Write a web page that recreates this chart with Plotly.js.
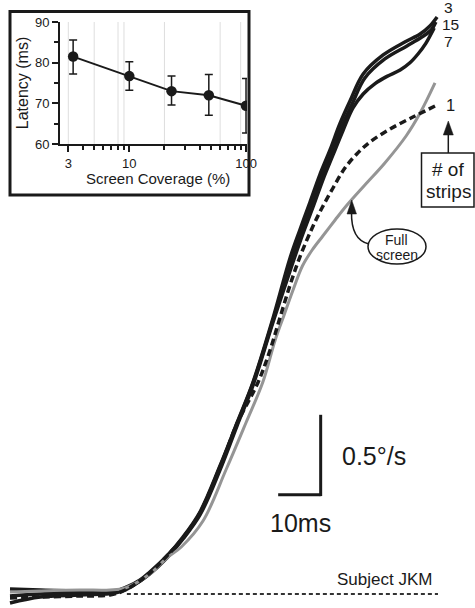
<!DOCTYPE html>
<html>
<head>
<meta charset="utf-8">
<script src="https://cdn.plot.ly/plotly-3.0.1.min.js"></script>
<style>html,body{margin:0;padding:0;background:#fff}#chart{width:475px;height:608px}</style>
</head>
<body>
<div id="chart"></div>
<script>
// ---- Main panel: eye velocity traces (time in ms, velocity in deg/s) ----
const t3  = [0, 7.1, 16.5, 24.7, 27.5, 30.6, 32.9, 36.9, 40.7, 44.7, 49.4, 53.4, 57.2, 61.9, 65.9, 68.2, 70.6, 72.9, 75.3, 77.6, 80.0, 83.1, 87.8, 92.9, 96.5, 98.8, 100.5];
const v3  = [0.031, 0.025, 0.019, 0.019, 0.044, 0.0875, 0.1375, 0.2375, 0.356, 0.5125, 0.80, 1.069, 1.325, 1.725, 2.10, 2.275, 2.45, 2.62, 2.775, 2.9375, 3.081, 3.25, 3.369, 3.45, 3.5, 3.55, 3.606];
const t15 = [0, 7.1, 16.5, 24.7, 27.5, 30.6, 32.9, 36.9, 40.7, 44.7, 49.4, 53.4, 57.2, 61.9, 66.1, 68.5, 70.8, 73.2, 75.5, 77.9, 80.5, 83.5, 88.2, 93.4, 96.9, 99.1, 100.2];
const v15 = [-0.0125, 0, 0.006, 0.0125, 0.0375, 0.081, 0.131, 0.231, 0.35, 0.506, 0.794, 1.0625, 1.319, 1.7125, 2.081, 2.256, 2.431, 2.6, 2.756, 2.9125, 3.063, 3.225, 3.344, 3.425, 3.481, 3.525, 3.575];
const t7  = [0, 7.1, 16.5, 24.7, 27.5, 30.6, 32.9, 36.9, 40.7, 44.7, 49.4, 53.4, 57.2, 61.9, 66.6, 68.9, 71.3, 73.6, 76.0, 78.4, 80.7, 83.1, 85.9, 88.7, 91.8, 94.1, 96.0, 97.8, 99.8];
const v7  = [-0.056, -0.019, -0.006, 0.006, 0.031, 0.081, 0.125, 0.225, 0.344, 0.494, 0.775, 1.05, 1.306, 1.7, 2.075, 2.25, 2.419, 2.5875, 2.744, 2.9, 3.0375, 3.125, 3.19, 3.235, 3.275, 3.32, 3.375, 3.44, 3.5375];
const t1  = [0, 7.1, 16.5, 23.5, 27.1, 32.9, 36.9, 40.7, 44.7, 49.4, 53.4, 58.4, 61.2, 63.5, 65.9, 68.2, 71.1, 73.4, 76.0, 78.8, 81.6, 84.7, 89.4, 94.8, 100.0];
const v1  = [-0.025, -0.019, -0.0125, -0.006, 0.025, 0.131, 0.2375, 0.35, 0.506, 0.7875, 1.0625, 1.325, 1.525, 1.725, 1.931, 2.106, 2.2875, 2.4125, 2.5375, 2.6625, 2.75, 2.825, 2.906, 2.981, 3.05];
const tFull = [0, 7.1, 16.5, 23.5, 27.1, 32.9, 36.9, 40.3, 45.4, 50.8, 55.5, 59.5, 62.4, 64.5, 66.6, 68.8, 71.1, 73.6, 76.5, 79.3, 83.5, 88.2, 93.2, 96.5, 100.0];
const vFull = [0.0125, 0.019, 0.025, 0.025, 0.0375, 0.125, 0.225, 0.294, 0.456, 0.775, 1.069, 1.325, 1.5875, 1.744, 1.9, 2.05, 2.15, 2.2375, 2.3375, 2.431, 2.556, 2.694, 2.8625, 3.006, 3.194];
const stripLabels = ["3", "15", "7", "1"];

// ---- Inset: latency vs screen coverage ----
const coverage  = [3.3, 10, 23, 48, 100];
const latency   = [81.5, 76.7, 73.0, 72.0, 69.4];
const errUpper  = [4.1, 3.5, 3.7, 5.1, 6.7];
const errLower  = [4.3, 3.5, 3.4, 4.9, 6.7];
const insetMajorTicks = [3, 10, 100];
const insetMinorTicks = [4, 5, 6, 7, 8, 9, 20, 30, 40, 50, 60, 70, 80, 90];
const insetYTicks = [60, 70, 80, 90];
const insetYMinor = [65, 75, 85];
const insetGrid = [3, 5, 8, 9, 20, 60, 90];

// scale bar values
const scaleMs = 10, scaleVel = 0.5;

const W = 475, H = 608;
const P = x => x / W, Q = y => 1 - y / H;
const FONT = '"Liberation Sans", Arial, Helvetica, sans-serif';
const INK = '#1a1a1a';

const traces = [
  {x: t3, y: v3, mode: 'lines', line: {color: INK, width: 3.5, shape: 'spline', smoothing: 1}, xaxis: 'x', yaxis: 'y', hoverinfo: 'skip'},
  {x: t15, y: v15, mode: 'lines', line: {color: INK, width: 3.5, shape: 'spline', smoothing: 1}, xaxis: 'x', yaxis: 'y', hoverinfo: 'skip'},
  {x: t7, y: v7, mode: 'lines', line: {color: INK, width: 3.5, shape: 'spline', smoothing: 1}, xaxis: 'x', yaxis: 'y', hoverinfo: 'skip'},
  {x: tFull, y: vFull, mode: 'lines', line: {color: '#959595', width: 3, shape: 'spline', smoothing: 1}, xaxis: 'x', yaxis: 'y', hoverinfo: 'skip'},
  {x: t1, y: v1, mode: 'lines', line: {color: INK, width: 3.5, dash: '7px,4px', shape: 'spline', smoothing: 1}, xaxis: 'x', yaxis: 'y', hoverinfo: 'skip'},
  {x: coverage, y: latency, mode: 'lines+markers', xaxis: 'x2', yaxis: 'y2',
   line: {color: INK, width: 2}, marker: {color: INK, size: 10.5},
   error_y: {type: 'data', symmetric: false, array: errUpper, arrayminus: errLower, color: INK, thickness: 1.5, width: 4},
   hoverinfo: 'skip'}
];

// scale bar anchor (data units)
const sbT = 63.1, sbV = 0.62;

const shapes = [
  // zero-velocity dotted baseline
  {type: 'line', xref: 'x', yref: 'y', x0: 27.5, x1: 100.7, y0: 0, y1: 0, line: {color: '#333', width: 2, dash: '4px,3px'}},
  // scale bars
  {type: 'line', xref: 'x', yref: 'y', x0: sbT, x1: sbT + scaleMs, y0: sbV, y1: sbV, line: {color: INK, width: 3}},
  {type: 'line', xref: 'x', yref: 'y', x0: sbT + scaleMs, x1: sbT + scaleMs, y0: sbV - 0.008, y1: sbV + scaleVel, line: {color: INK, width: 3}},
  // inset frame
  {type: 'rect', xref: 'paper', yref: 'paper', x0: P(10), x1: P(249), y0: Q(195), y1: Q(11.5), line: {color: INK, width: 3}},
  // "# of strips" box and arrow
  {type: 'rect', xref: 'paper', yref: 'paper', x0: P(421.5), x1: P(474), y0: Q(207), y1: Q(153), line: {color: INK, width: 1.5}},
  {type: 'line', xref: 'paper', yref: 'paper', x0: P(448.3), x1: P(448.3), y0: Q(153), y1: Q(133), line: {color: INK, width: 1.5}},
  {type: 'path', xref: 'paper', yref: 'paper', path: `M ${P(448.3)},${Q(121)} L ${P(443.3)},${Q(135)} L ${P(453.3)},${Q(135)} Z`, fillcolor: INK, line: {color: INK, width: 0.5}},
  // "Full screen" ellipse and curved arrow
  {type: 'circle', xref: 'paper', yref: 'paper', x0: P(368), x1: P(426), y0: Q(264), y1: Q(229), line: {color: INK, width: 1.5}},
  {type: 'path', xref: 'paper', yref: 'paper', path: `M ${P(369)},${Q(244)} Q ${P(351)},${Q(240)} ${P(351.5)},${Q(212)}`, line: {color: INK, width: 1.5}},
  {type: 'path', xref: 'paper', yref: 'paper', path: `M ${P(351.7)},${Q(200)} L ${P(347)},${Q(214)} L ${P(356.5)},${Q(214)} Z`, fillcolor: INK, line: {color: INK, width: 0.5}}
];
insetGrid.forEach(g => shapes.push({type: 'line', xref: 'x2', yref: 'y2', x0: g, x1: g, y0: 60, y1: 90, layer: 'below', line: {color: '#dedede', width: 1}}));

const ann = (x, y, text, size, extra) => Object.assign({xref: 'paper', yref: 'paper', x: P(x), y: Q(y), text: text, showarrow: false, xanchor: 'center', yanchor: 'middle', font: {family: FONT, size: size, color: INK}}, extra || {});

const annotations = [
  ann(448.5, 7.5, stripLabels[0], 15.5),
  ann(450, 24.5, stripLabels[1], 15.5),
  ann(448.5, 41.5, stripLabels[2], 15.5),
  ann(450, 105, stripLabels[3], 16.5),
  ann(448, 170, '# of', 19),
  ann(448, 191, 'strips', 19),
  ann(396, 240, 'Full', 14),
  ann(396.5, 255.5, 'screen', 14),
  ann(374, 456, '0.5°/s', 25),
  ann(300.5, 523, '10ms', 25),
  ann(384, 579.5, 'Subject JKM', 17),
  // inset x-axis title
  ann(157.5, 178.5, 'Screen Coverage (%)', 15)
];

const layout = {
  width: W, height: H,
  margin: {l: 0, r: 0, t: 0, b: 0, pad: 0},
  paper_bgcolor: '#fff', plot_bgcolor: 'rgba(0,0,0,0)',
  showlegend: false,
  font: {family: FONT, color: INK},
  xaxis: {domain: [0, 1], range: [-2.353, 109.412], visible: false, fixedrange: true},
  yaxis: {domain: [0, 1], range: [-0.0875, 3.7125], visible: false, fixedrange: true},
  xaxis2: {type: 'log', domain: [P(60), P(247)], range: [0.406, 2.0084], anchor: 'y2',
    showline: true, linecolor: INK, linewidth: 2, showgrid: false, zeroline: false,
    tickmode: 'array', tickvals: insetMajorTicks, ticktext: insetMajorTicks.map(String),
    ticks: 'outside', ticklen: 6, tickwidth: 2, tickcolor: INK,
    minor: {tickmode: 'array', tickvals: insetMinorTicks, ticks: 'outside', ticklen: 4, tickwidth: 2, tickcolor: INK, showgrid: false},
    tickfont: {family: FONT, size: 13, color: INK}},
  yaxis2: {domain: [Q(144), Q(22)], range: [60, 90], anchor: 'x2',
    showline: true, linecolor: INK, linewidth: 2, showgrid: false, zeroline: false,
    tickmode: 'array', tickvals: insetYTicks,
    ticks: 'outside', ticklen: 6, tickwidth: 2, tickcolor: INK,
    minor: {tickmode: 'array', tickvals: insetYMinor, ticks: 'outside', ticklen: 4, tickwidth: 2, tickcolor: INK, showgrid: false},
    tickfont: {family: FONT, size: 13, color: INK},
    title: {text: 'Latency (ms)', font: {family: FONT, size: 16, color: INK}, standoff: 2}},
  shapes: shapes,
  annotations: annotations
};

Plotly.newPlot('chart', traces, layout, {staticPlot: true, displayModeBar: false});
</script>
</body>
</html>
